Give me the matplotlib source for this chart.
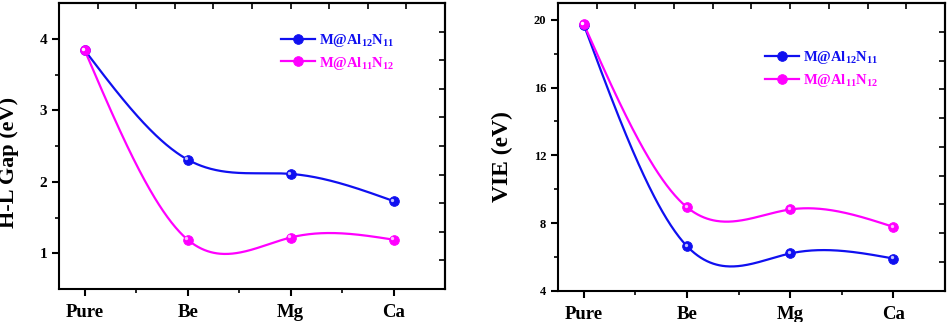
import numpy as np
import matplotlib
matplotlib.use("Agg")
import matplotlib.pyplot as plt
from matplotlib.transforms import ScaledTranslation

plt.rcParams['font.family'] = ['Liberation Serif', 'DejaVu Serif']
plt.rcParams['font.weight'] = 'bold'
plt.rcParams['mathtext.fontset'] = 'custom'
plt.rcParams['mathtext.bf'] = 'Liberation Serif:bold'
plt.rcParams['mathtext.rm'] = 'Liberation Serif:bold'
plt.rcParams['mathtext.default'] = 'bf'

categories = ['Pure', 'Be', 'Mg', 'Ca']
hl_al12n11 = [3.84, 2.31, 2.11, 1.73]
hl_al11n12 = [3.84, 1.19, 1.22, 1.19]
vie_al12n11 = [19.72, 6.63, 6.20, 5.90]
vie_al11n12 = [19.75, 8.93, 8.80, 7.77]
label_a = r'M@Al$_{12}$N$_{11}$'
label_b = r'M@Al$_{11}$N$_{12}$'
blue = '#1010f0'
magenta = '#ff00ff'


def natural_spline(x, y, n=300):
    x = np.asarray(x, float); y = np.asarray(y, float)
    k = len(x)
    h = np.diff(x)
    A = np.zeros((k, k)); r = np.zeros(k)
    A[0, 0] = 1; A[-1, -1] = 1
    for i in range(1, k - 1):
        A[i, i - 1] = h[i - 1]; A[i, i] = 2 * (h[i - 1] + h[i]); A[i, i + 1] = h[i]
        r[i] = 3 * ((y[i + 1] - y[i]) / h[i] - (y[i] - y[i - 1]) / h[i - 1])
    c = np.linalg.solve(A, r)
    xs = np.linspace(x[0], x[-1], n)
    ys = np.empty_like(xs)
    for j, xv in enumerate(xs):
        i = min(np.searchsorted(x, xv, side='right') - 1, k - 2)
        b = (y[i + 1] - y[i]) / h[i] - h[i] * (2 * c[i] + c[i + 1]) / 3
        d = (c[i + 1] - c[i]) / (3 * h[i])
        t = xv - x[i]
        ys[j] = y[i] + b * t + c[i] * t ** 2 + d * t ** 3
    return xs, ys


def draw(ax, fig, series, labels):
    xs = np.arange(len(categories))
    handles = []
    for vals, col, lab in zip(series, [blue, magenta], labels):
        sx, sy = natural_spline(xs, vals)
        ax.plot(sx, sy, color=col, lw=1.6, zorder=2)
        h, = ax.plot(xs, vals, 'o', color=col, ms=7, mec=col, mew=0.6, lw=1.6,
                     ls='-', zorder=3, label=lab)
        h.set_linestyle('none')
        off = ScaledTranslation(-1.0 / 72, 1.0 / 72, fig.dpi_scale_trans)
        ax.plot(xs, vals, 'o', color='white', ms=2.4, alpha=0.75, mec='none',
                transform=ax.transData + off, zorder=4)
        handles.append(h)
    return handles


def style(ax, ylim, yticks, yminor):
    ax.set_xlim(-0.25, 3.5)
    ax.set_ylim(*ylim)
    ax.set_xticks(range(len(categories)))
    ax.set_xticklabels(categories, fontsize=13.5, fontweight='bold')
    ax.set_xticks([0.5, 1.5, 2.5], minor=True)
    ax.set_yticks(yticks)
    ax.set_yticks(yminor, minor=True)
    for s in ax.spines.values():
        s.set_linewidth(1.5)
    ax.tick_params(axis='x', which='major', direction='out', length=5, width=1.5, pad=6)
    ax.tick_params(axis='x', which='minor', direction='out', length=3, width=1.2)
    ax.tick_params(axis='y', which='major', direction='out', length=5, width=1.5)
    ax.tick_params(axis='y', which='minor', direction='out', length=3, width=1.2)
    # top / right axes: 10 equal divisions, ticks inward
    top = ax.secondary_xaxis('top')
    x0, x1 = ax.get_xlim()
    top.set_xticks(np.linspace(x0, x1, 11)[1:-1])
    top.set_xticklabels([])
    top.tick_params(direction='in', length=4, width=1.2)
    right = ax.secondary_yaxis('right')
    y0, y1 = ax.get_ylim()
    right.set_yticks(np.linspace(y0, y1, 11)[1:-1])
    right.set_yticklabels([])
    right.tick_params(direction='in', length=4, width=1.2)
    for sec in (top, right):
        for s in sec.spines.values():
            s.set_linewidth(1.5)


fig = plt.figure(figsize=(9.48, 3.22), dpi=100)
ax1 = fig.add_axes([0.0622, 0.1025, 0.4072, 0.888])
ax2 = fig.add_axes([0.5886, 0.0972, 0.4082, 0.8935])

h1 = draw(ax1, fig, [hl_al12n11, hl_al11n12], [label_a, label_b])
style(ax1, (0.5, 4.5), [1, 2, 3, 4], [1.5, 2.5, 3.5])
ax1.tick_params(axis='y', labelsize=11)
ax1.set_ylabel('H-L Gap (eV)', fontsize=16, fontweight='bold')
ax1.yaxis.set_label_coords(-0.104, 0.444)
ax1.legend(handles=h1, loc='upper left', bbox_to_anchor=(0.56, 0.92), frameon=False,
           fontsize=10.5, labelcolor='linecolor', handlelength=2.3, handletextpad=0.3,
           labelspacing=0.4, borderaxespad=0)
for h in ax1.get_legend().legend_handles:
    h.set_linestyle('-')

h2 = draw(ax2, fig, [vie_al12n11, vie_al11n12], [label_a, label_b])
style(ax2, (4, 21), [4, 8, 12, 16, 20], [6, 10, 14, 18])
ax2.tick_params(axis='y', labelsize=9)
ax2.set_ylabel('VIE (eV)', fontsize=17, fontweight='bold')
ax2.yaxis.set_label_coords(-0.116, 0.465)
ax2.legend(handles=h2, loc='upper left', bbox_to_anchor=(0.52, 0.86), frameon=False,
           fontsize=10.5, labelcolor='linecolor', handlelength=2.3, handletextpad=0.3,
           labelspacing=0.4, borderaxespad=0)
for h in ax2.get_legend().legend_handles:
    h.set_linestyle('-')

fig.savefig('out.png', dpi=100)
